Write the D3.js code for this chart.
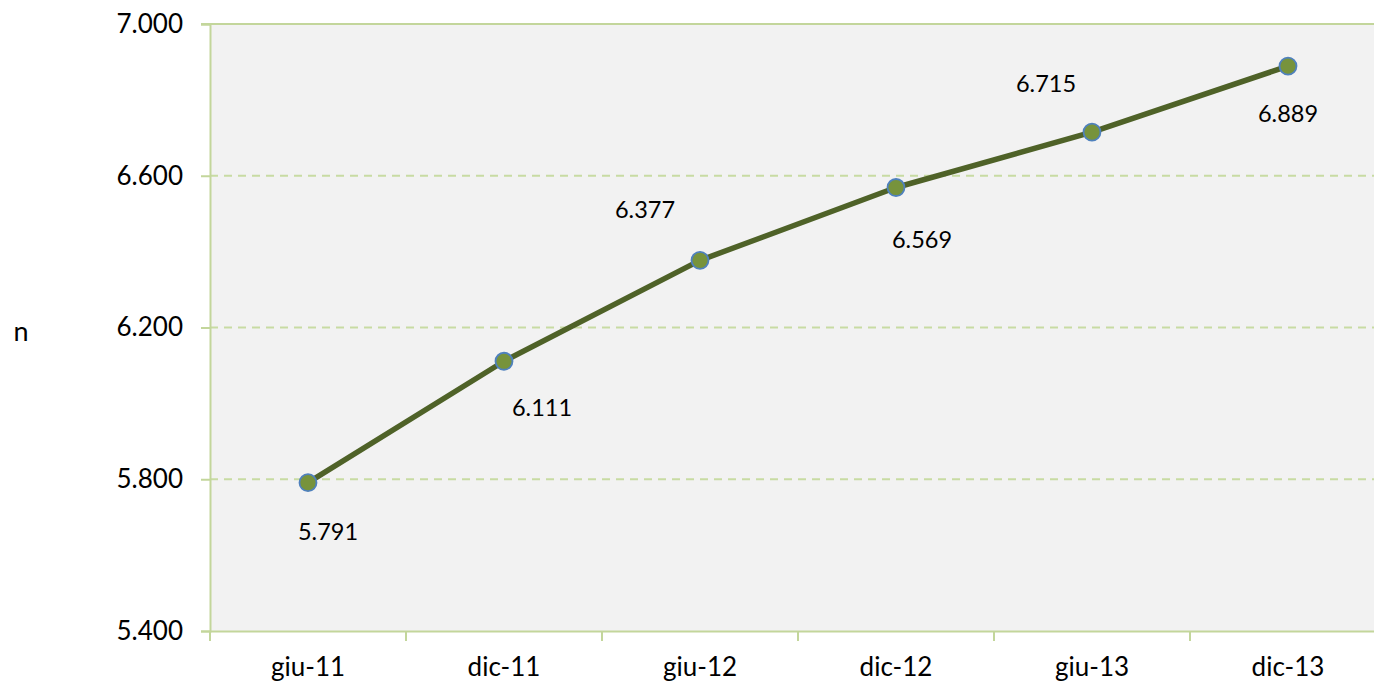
<!DOCTYPE html>
<html>
<head>
<meta charset="utf-8">
<script src="https://cdn.jsdelivr.net/npm/d3@7"></script>
<style>
  body { margin: 0; background: #fff; }
  text { font-family: Lato, "Open Sans", sans-serif; fill: #000; }
</style>
</head>
<body>
<div id="chart"></div>
<script>
// Chart data
const periods = ["giu-11", "dic-11", "giu-12", "dic-12", "giu-13", "dic-13"];
const values = [5791, 6111, 6377, 6569, 6715, 6889];
const yTicks = [5400, 5800, 6200, 6600, 7000];
const yLabel = "n";

// label placement (offset from point, px)
const labelDx = [20, 38, -55, 26, -46, 0];
const labelDy = [48, 46, -51, 51, -49, 47];

const W = 1374, H = 684;
const margin = { top: 24, left: 210 };
const plotW = 1176, plotH = 607;

const fmt = v => d3.format(",.0f")(v).replace(/,/g, ".");
const fmtTick = v => d3.format(".3f")(v / 1000);

const svg = d3.select("#chart").append("svg")
    .attr("width", W).attr("height", H);

const g = svg.append("g")
    .attr("transform", `translate(${margin.left},${margin.top})`);

const x = d3.scaleBand().domain(periods).range([0, plotW]);
const y = d3.scaleLinear().domain([5400, 7000]).range([plotH, 0]);

// Plot background
g.append("rect")
    .attr("width", plotW).attr("height", plotH)
    .attr("fill", "#f2f2f2");

// Gridlines
g.selectAll(".grid")
    .data(yTicks.filter(t => t > 5400 && t < 7000))
    .enter().append("line")
    .attr("x1", 0).attr("x2", plotW)
    .attr("y1", d => y(d)).attr("y2", d => y(d))
    .attr("stroke", "#c8dba3").attr("stroke-width", 2)
    .attr("stroke-dasharray", "8,6");

// top line
g.append("line")
    .attr("x1", -9).attr("x2", plotW)
    .attr("y1", y(7000)).attr("y2", y(7000))
    .attr("stroke", "#c3d69b").attr("stroke-width", 2);

// Y axis
const yAxis = g.append("g")
    .call(d3.axisLeft(y).tickValues(yTicks).tickFormat(fmtTick).tickSize(9).tickPadding(18));
yAxis.select(".domain").attr("stroke", "#c3d69b").attr("stroke-width", 2);
yAxis.selectAll(".tick line").attr("stroke", "#c3d69b").attr("stroke-width", 2);
yAxis.selectAll("text").style("font-size", "26px").attr("fill", "#000");

// X axis
const xAxis = g.append("g")
    .attr("transform", `translate(0,${plotH})`)
    .call(d3.axisBottom(x).tickSize(0).tickPadding(27));
xAxis.select(".domain").attr("stroke", "#c3d69b").attr("stroke-width", 2);
xAxis.selectAll("text").style("font-size", "26px").attr("fill", "#000");

// category boundary ticks
g.selectAll(".xtick")
    .data(periods)
    .enter().append("line")
    .attr("x1", d => x(d)).attr("x2", d => x(d))
    .attr("y1", plotH).attr("y2", plotH + 10)
    .attr("stroke", "#c3d69b").attr("stroke-width", 2);

// Line
const cx = d => x(d) + x.bandwidth() / 2;
const line = d3.line()
    .x((d, i) => cx(periods[i]))
    .y(d => y(d));

g.append("path")
    .datum(values)
    .attr("d", line)
    .attr("fill", "none")
    .attr("stroke", "#4f6228")
    .attr("stroke-width", 5.5)
    .attr("stroke-linejoin", "round");

// Markers
g.selectAll(".dot")
    .data(values)
    .enter().append("circle")
    .attr("cx", (d, i) => cx(periods[i]))
    .attr("cy", d => y(d))
    .attr("r", 8.5)
    .attr("fill", "#77933c")
    .attr("stroke", "#4f81bd")
    .attr("stroke-width", 1.8);

// Data labels
g.selectAll(".lbl")
    .data(values)
    .enter().append("text")
    .attr("x", (d, i) => cx(periods[i]) + labelDx[i])
    .attr("y", (d, i) => y(d) + labelDy[i])
    .attr("text-anchor", "middle")
    .attr("dominant-baseline", "central")
    .style("font-size", "23.5px")
    .text(fmt);

// Y label
svg.append("text")
    .attr("x", 21).attr("y", 330)
    .attr("text-anchor", "middle")
    .attr("dominant-baseline", "central")
    .style("font-size", "27px")
    .text(yLabel);
</script>
</body>
</html>
